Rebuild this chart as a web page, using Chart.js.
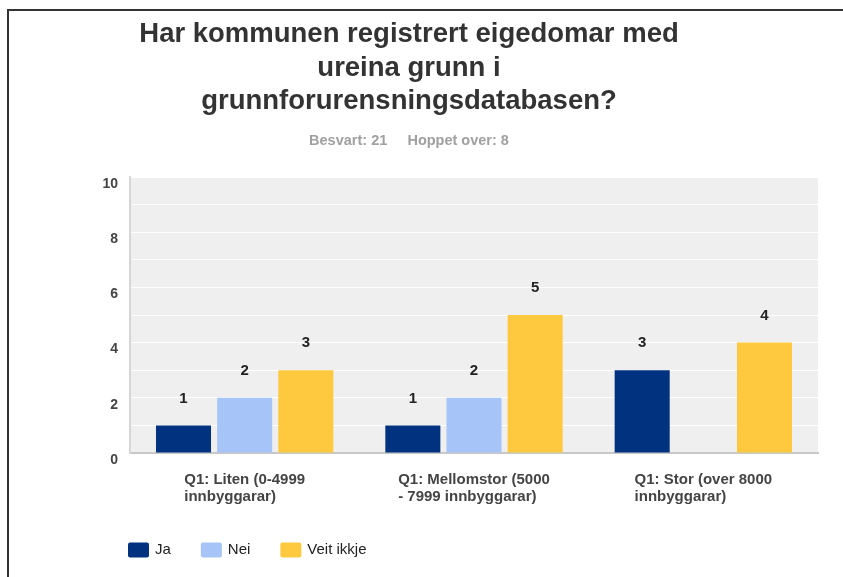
<!DOCTYPE html>
<html><head><meta charset="utf-8">
<script src="https://cdn.jsdelivr.net/npm/chart.js@4/dist/chart.umd.min.js"></script>
<style>
html,body{margin:0;padding:0;background:#fff;overflow:hidden;}
#wrap{position:absolute;left:0;top:0;width:843px;height:577px;}
#frame{position:absolute;left:7px;top:9px;width:840px;height:570px;border-top:2px solid #333;border-left:2px solid #333;}
canvas{position:absolute;left:0;top:0;}
</style></head>
<body>
<div id="wrap"><div id="frame"></div><canvas id="c" width="843" height="577"></canvas></div>
<script>
const titleLines = ['Har kommunen registrert eigedomar med', 'ureina grunn i', 'grunnforurensningsdatabasen?'];
const subtitleText = 'Besvart: 21     Hoppet over: 8';
const categories = [['Q1: Liten (0-4999', 'innbyggarar)'], ['Q1: Mellomstor (5000', '- 7999 innbyggarar)'], ['Q1: Stor (over 8000', 'innbyggarar)']];
const seriesNames = ['Ja', 'Nei', 'Veit ikkje'];
const ja = [1, 1, 3];
const nei = [2, 2, 0];
const veitIkkje = [3, 5, 4];
const yTickLabels = [0, 2, 4, 6, 8, 10];
const seriesColors = ['#00327f', '#a7c4f9', '#fec93f'];

const FONT = '"Liberation Sans", Arial, sans-serif';

const bgPlugin = {
  id: 'bg',
  beforeDraw(chart) {
    const a = chart.chartArea, ctx = chart.ctx;
    ctx.save();
    ctx.fillStyle = '#efefef';
    ctx.fillRect(a.left, a.top, a.right - a.left, a.bottom - a.top);
    ctx.restore();
  }
};

const valuePlugin = {
  id: 'values',
  afterDatasetsDraw(chart) {
    const ctx = chart.ctx;
    ctx.save();
    ctx.font = 'bold 15px ' + FONT;
    ctx.fillStyle = '#222';
    ctx.textAlign = 'center';
    ctx.textBaseline = 'middle';
    chart.data.datasets.forEach((ds, di) => {
      const meta = chart.getDatasetMeta(di);
      meta.data.forEach((bar, i) => {
        const v = ds.data[i];
        if (!v) return;
        ctx.fillText(String(v), bar.x, bar.y - 27);
      });
    });
    ctx.restore();
  }
};

const labelsLegendPlugin = {
  id: 'xlabelsLegend',
  afterDraw(chart) {
    const ctx = chart.ctx, xs = chart.scales.x, a = chart.chartArea;
    ctx.save();
    ctx.font = 'bold 15px ' + FONT;
    ctx.fillStyle = '#444';
    ctx.textBaseline = 'middle';
    ctx.textAlign = 'left';
    categories.forEach((lines, i) => {
      const cx = xs.getPixelForValue(i);
      const w = Math.max(...lines.map(l => ctx.measureText(l).width));
      const x0 = cx - w / 2;
      lines.forEach((l, li) => ctx.fillText(l, x0, a.bottom + 27 + li * 17));
    });
    ctx.font = '15px ' + FONT;
    let x = 128;
    const yc = 550;
    chart.data.datasets.forEach((ds) => {
      ctx.fillStyle = ds.backgroundColor;
      ctx.beginPath();
      ctx.roundRect(x, yc - 7.5, 21, 15, 2);
      ctx.fill();
      ctx.fillStyle = '#222';
      ctx.fillText(ds.label, x + 27, yc);
      x += 27 + ctx.measureText(ds.label).width + 30;
    });
    ctx.restore();
  }
};

new Chart(document.getElementById('c'), {
  type: 'bar',
  data: {
    labels: categories,
    datasets: [
      { label: seriesNames[0], data: ja, backgroundColor: seriesColors[0] },
      { label: seriesNames[1], data: nei, backgroundColor: seriesColors[1] },
      { label: seriesNames[2], data: veitIkkje, backgroundColor: seriesColors[2] }
    ]
  },
  options: {
    responsive: false,
    animation: false,
    devicePixelRatio: 1,
    layout: { padding: { left: 0, right: 25, top: 0, bottom: 0 } },
    plugins: {
      legend: { display: false },
      tooltip: { enabled: false },
      title: {
        display: true,
        text: titleLines,
        color: '#333',
        font: { family: FONT, size: 27.5, weight: 'bold', lineHeight: 1.22 },
        padding: { top: 18, bottom: 14 }
      },
      subtitle: {
        display: true,
        text: subtitleText,
        color: '#a0a0a0',
        font: { family: FONT, size: 14.5, weight: 'bold', lineHeight: 1.2 },
        padding: { top: 0, bottom: 27 }
      }
    },
    scales: {
      x: {
        grid: { display: false },
        border: { color: '#c8c8c8', width: 2 },
        ticks: { display: false },
        afterFit(s) { s.height = 124; }
      },
      y: {
        min: 0,
        max: 10,
        grid: { color: '#ffffff', lineWidth: 1, drawTicks: false },
        border: { color: '#d6d6d6', width: 2 },
        ticks: {
          stepSize: 1,
          padding: 12,
          labelOffset: 7,
          color: '#444',
          font: { family: FONT, size: 14, weight: 'bold' },
          callback: (v) => yTickLabels.includes(v) ? String(v) : ''
        },
        afterFit(s) { s.width = 130; }
      }
    }
  },
  plugins: [bgPlugin, valuePlugin, labelsLegendPlugin]
});
</script>
</body></html>
